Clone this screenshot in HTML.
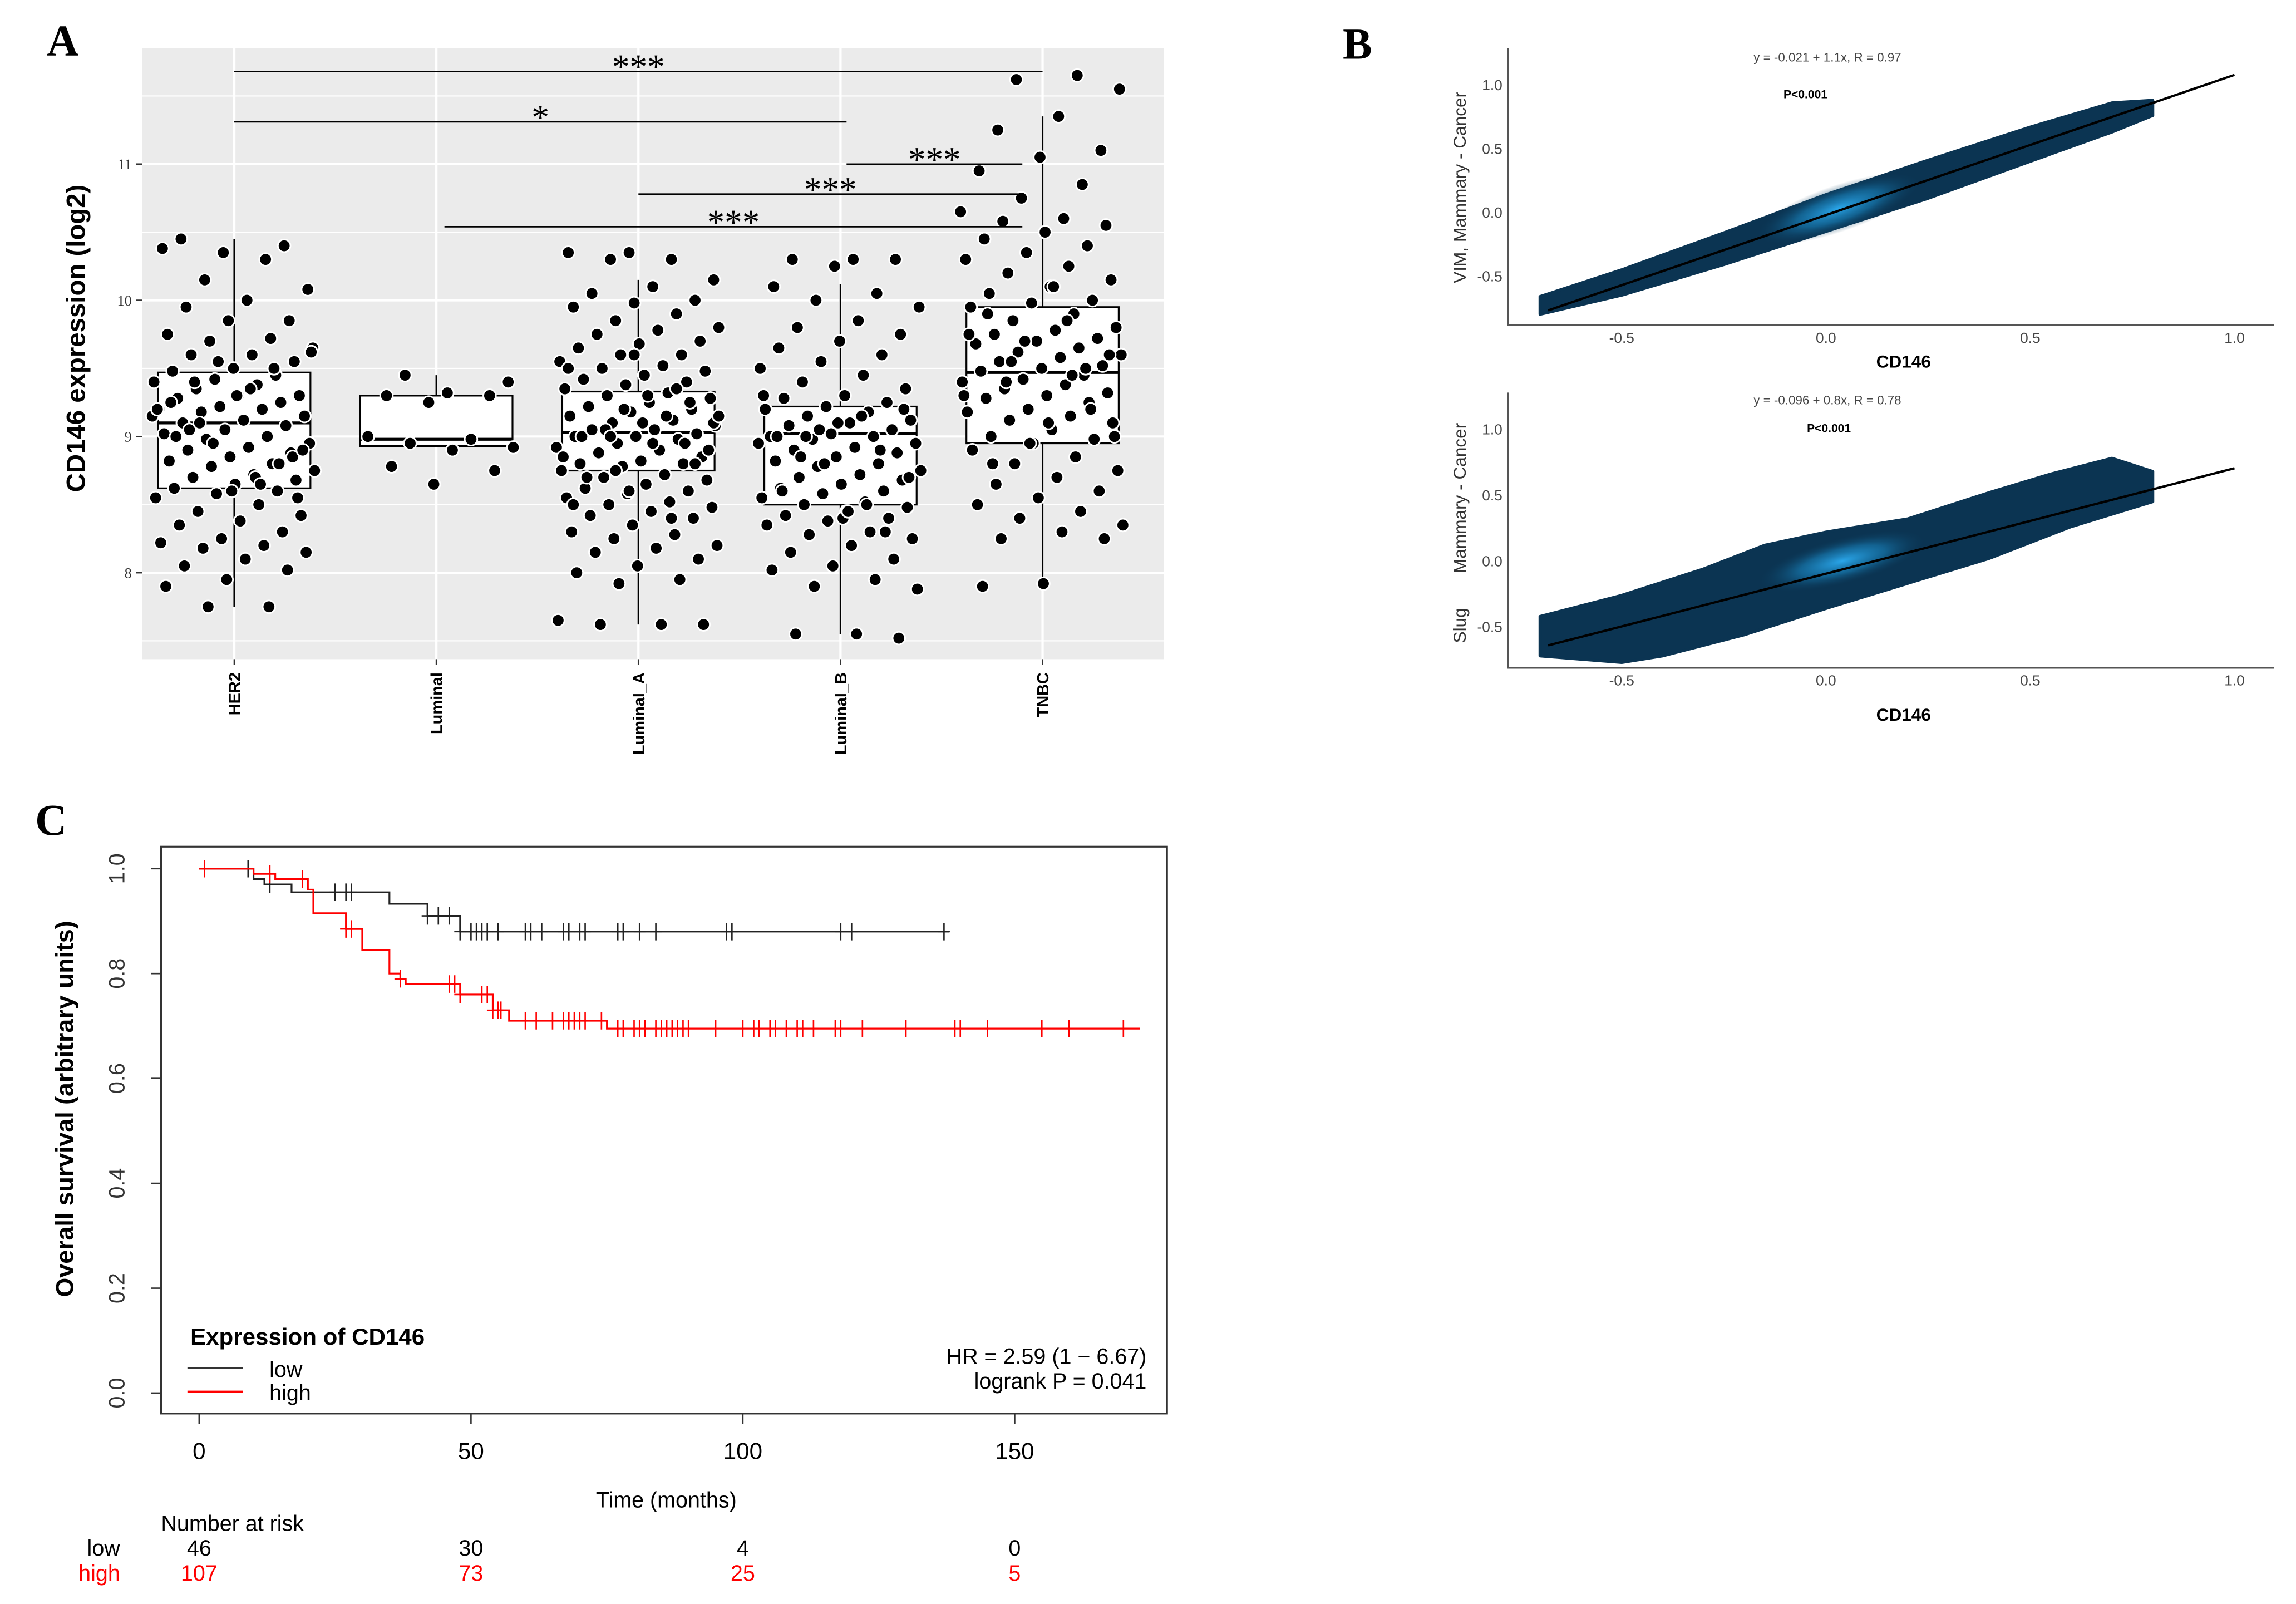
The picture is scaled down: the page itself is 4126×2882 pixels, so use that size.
<!DOCTYPE html>
<html><head><meta charset="utf-8">
<style>
html,body{margin:0;padding:0;background:#fff;}
svg{display:block;}
</style></head>
<body>
<svg id="fig" xmlns="http://www.w3.org/2000/svg" width="4126" height="2882" viewBox="0 0 1568 1095" preserveAspectRatio="none" font-family="Liberation Sans, sans-serif">
<defs>
<radialGradient id="glowB1" cx="0.5" cy="0.5" r="0.5"><stop offset="0" stop-color="#2aa6ea"/><stop offset="0.5" stop-color="#1677ad" stop-opacity="0.7"/><stop offset="1" stop-color="#0a3350" stop-opacity="0"/></radialGradient>
<radialGradient id="glowB2" cx="0.5" cy="0.5" r="0.5"><stop offset="0" stop-color="#2aa6ea"/><stop offset="0.5" stop-color="#1677ad" stop-opacity="0.7"/><stop offset="1" stop-color="#0a3350" stop-opacity="0"/></radialGradient>
</defs>
</svg>
<script>
// ---------- Panel A data ----------
const catsA = ['HER2','Luminal','Luminal_A','Luminal_B','TNBC'];
const q1A  = [8.62, 8.93, 8.75, 8.50, 8.95];
const medA = [9.10, 8.98, 9.03, 9.02, 9.47];
const q3A  = [9.47, 9.30, 9.33, 9.22, 9.95];
const loA  = [7.75, 8.92, 7.62, 7.55, 7.90];
const hiA  = [10.45, 9.45, 10.15, 10.12, 11.35];
const ticksA = [8, 9, 10, 11];
const ptsHER2 = [10.45,10.4,10.35,10.38,10.3,10.15,10.08,10.0,9.95,9.85,9.85,9.75,9.72,9.7,9.65,9.6,9.6,9.55,9.5,9.48,9.45,9.42,9.4,9.38,9.35,9.3,9.3,9.28,9.25,9.22,9.2,9.2,9.18,9.15,9.12,9.1,9.08,9.05,9.02,9.0,8.98,8.95,8.92,8.9,8.88,8.85,8.82,8.8,8.78,8.75,8.72,8.7,8.68,8.65,8.62,8.6,8.58,8.55,8.5,8.45,8.42,8.38,8.35,8.3,8.25,8.22,8.2,8.18,8.15,8.1,8.05,8.02,7.95,7.9,7.75,7.75,9.62,9.35,9.05,8.85,8.6,9.25,9.5,8.95,9.15,8.7,9.4,8.55,9.3,9.0,8.8,9.55,9.2,8.65,9.1,8.9];
const ptsLum = [9.45,9.4,9.32,9.3,9.3,9.25,9.0,8.98,8.95,8.92,8.9,8.78,8.75,8.65];
const ptsLumA = [10.35,10.35,10.3,10.3,10.15,10.1,10.05,10.0,9.98,9.95,9.9,9.85,9.8,9.78,9.75,9.7,9.68,9.65,9.6,9.6,9.55,9.52,9.5,9.48,9.45,9.42,9.4,9.38,9.35,9.32,9.3,9.28,9.25,9.22,9.2,9.18,9.15,9.12,9.1,9.08,9.05,9.05,9.02,9.0,9.0,8.98,8.95,8.92,8.9,8.88,8.85,8.82,8.8,8.8,8.78,8.75,8.72,8.7,8.68,8.65,8.62,8.6,8.58,8.55,8.52,8.5,8.48,8.45,8.42,8.4,8.35,8.3,8.28,8.25,8.2,8.18,8.15,8.1,8.05,8.0,7.95,7.92,7.65,7.62,7.62,7.62,9.1,9.0,8.95,9.2,8.85,9.15,9.05,8.9,9.3,8.7,9.25,8.6,9.5,8.4,9.0,9.1,8.95,9.05,8.8,9.6,8.5,9.35,8.75,9.15];
const ptsLumB = [10.3,10.3,10.3,10.25,10.1,10.05,10.0,9.95,9.85,9.8,9.75,9.7,9.65,9.6,9.55,9.5,9.45,9.4,9.35,9.3,9.28,9.25,9.22,9.2,9.18,9.15,9.12,9.1,9.08,9.05,9.02,9.0,9.0,8.98,8.95,8.92,8.9,8.88,8.85,8.82,8.8,8.78,8.75,8.72,8.7,8.68,8.65,8.62,8.6,8.58,8.55,8.52,8.5,8.48,8.45,8.42,8.4,8.38,8.35,8.3,8.28,8.25,8.2,8.15,8.1,8.05,8.02,7.95,7.9,7.88,7.55,7.55,7.52,9.1,9.0,8.9,9.05,8.95,9.15,8.85,9.2,8.4,8.6,8.3,8.8,9.3,8.5,9.0,8.7,8.45];
const ptsTNBC = [11.65,11.62,11.55,11.35,11.25,11.1,11.05,10.95,10.85,10.75,10.65,10.6,10.58,10.55,10.5,10.45,10.4,10.35,10.3,10.25,10.2,10.15,10.1,10.05,10.0,9.98,9.95,9.9,9.85,9.8,9.78,9.75,9.72,9.7,9.68,9.65,9.62,9.6,9.58,9.55,9.52,9.5,9.48,9.45,9.42,9.4,9.38,9.35,9.32,9.3,9.28,9.25,9.2,9.18,9.15,9.12,9.1,9.05,9.0,8.98,8.95,8.9,8.85,8.8,8.75,8.7,8.65,8.6,8.55,8.5,8.45,8.4,8.35,8.3,8.25,8.25,7.92,7.9,9.5,9.7,9.3,9.85,9.4,9.6,9.1,9.9,9.2,8.95,9.75,9.45,9.55,9.0,10.1,8.8];
const groupsA = [ptsHER2, ptsLum, ptsLumA, ptsLumB, ptsTNBC];
const sigFrom = [0, 0, 3.03, 2.0, 1.04];
const sigTo   = [4.0, 3.03, 3.9, 3.9, 3.9];
const sigVal  = [11.68, 11.31, 11.0, 10.78, 10.54];
const sigLab  = ['***', '*', '***', '***', '***'];

// ---------- Panel B data ----------
const ticksBx = [-0.5, 0.0, 0.5, 1.0];
const ticksBy = [-0.5, 0.0, 0.5, 1.0];
const fitB1 = [-0.021, 1.1];
const fitB2 = [-0.096, 0.8];
const bandB1Upper = [[-0.7,-0.66],[-0.5,-0.45],[-0.25,-0.16],[0,0.14],[0.25,0.41],[0.5,0.67],[0.7,0.86],[0.8,0.88]];
const bandB1Lower = [[0.8,0.76],[0.7,0.63],[0.5,0.4],[0.25,0.11],[0,-0.15],[-0.25,-0.41],[-0.5,-0.65],[-0.7,-0.8]];
const bandB2Upper = [[-0.7,-0.42],[-0.5,-0.26],[-0.3,-0.06],[-0.15,0.12],[0.0,0.22],[0.2,0.32],[0.4,0.52],[0.55,0.66],[0.7,0.78],[0.8,0.68]];
const bandB2Lower = [[0.8,0.45],[0.6,0.26],[0.4,0.02],[0.2,-0.17],[0.0,-0.36],[-0.2,-0.56],[-0.4,-0.72],[-0.5,-0.77],[-0.7,-0.72]];

// ---------- Panel C data ----------
const lowT  = [0,10,12,17,35,42,48,138];
const lowS  = [1,0.98,0.97,0.955,0.933,0.91,0.88,0.88];
const highT = [0,10,14,20,21,27,30,35,37,38,48,54,57,75,173];
const highS = [1,0.99,0.98,0.96,0.915,0.885,0.845,0.80,0.79,0.78,0.76,0.73,0.71,0.695,0.695];
const lowCens = [9,13,25,27,28,42,44,46,48,50,51,52,53,55,60,61,63,67,68,70,71,77,78,81,84,97,98,118,120,137];
const highCens = [1,13,19,27,28,37,46,47,48,52,53,54,55,55.5,60,62,65,67,68,69,70,71,74,77,78,80,81,82,84,85,86,87,88,89,90,95,100,102,103,105,106,108,110,111,113,117,118,122,130,139,140,145,155,160,170];
const ticksCx = [0,50,100,150];
const ticksCy = [0,0.2,0.4,0.6,0.8,1.0];
const riskT = [0,50,100,150];
const riskLow = [46,30,4,0];
const riskHigh = [107,73,25,5];

const NS='http://www.w3.org/2000/svg';
const svg=document.getElementById('fig');
function mk(tag,attrs,parent){const e=document.createElementNS(NS,tag);for(const k in attrs)e.setAttribute(k,attrs[k]);(parent||svg).appendChild(e);return e;}
function txt(s,attrs,parent){const e=mk('text',attrs,parent);e.textContent=s;return e;}
const SERIF='Liberation Serif, serif';
let el;

// ================= PANEL A =================
const gA=mk('g',{});


el=txt('A',{x:32,y:38,'font-family':SERIF,'font-weight':'bold','font-size':30},gA);


const axL=97,axR=795,axT=33,axB=450;
const yA=v=>298-(v-9)*93;
const xA=i=>160+i*138;
el=mk('rect',{x:axL,y:axT,width:axR-axL,height:axB-axT,fill:'#ebebeb'},gA);


[7.5,8.5,9.5,10.5,11.5].forEach(v=>{el=mk('line',{x1:axL,x2:axR,y1:yA(v),y2:yA(v),stroke:'#fff','stroke-width':0.8},gA);

});
ticksA.forEach(v=>{el=mk('line',{x1:axL,x2:axR,y1:yA(v),y2:yA(v),stroke:'#fff','stroke-width':1.6},gA);


el=mk('line',{x1:axL-4,x2:axL,y1:yA(v),y2:yA(v),stroke:'#333','stroke-width':1},gA);


el=txt(String(v),{x:axL-7,y:yA(v)+3.5,'font-size':10,'text-anchor':'end','font-family':SERIF,fill:'#333'},gA);

});
catsA.forEach((c,i)=>{el=mk('line',{x1:xA(i),x2:xA(i),y1:axT,y2:axB,stroke:'#fff','stroke-width':1.6},gA);


el=mk('line',{x1:xA(i),x2:xA(i),y1:axB,y2:axB+4,stroke:'#333','stroke-width':1},gA);


el=txt(c,{x:0,y:0,'font-size':11,'font-weight':'bold','text-anchor':'end',transform:`translate(${xA(i)+4},${axB+9}) rotate(-90)`},gA);

});
el=txt('CD146 expression (log2)',{x:0,y:0,'font-size':18,'font-weight':'bold','text-anchor':'middle',transform:'translate(58,231) rotate(-90)'},gA);


catsA.forEach((c,i)=>{const x=xA(i),w=104;
el=mk('line',{x1:x,x2:x,y1:yA(hiA[i]),y2:yA(loA[i]),stroke:'#000','stroke-width':1.2},gA);


el=mk('rect',{x:x-w/2,y:yA(q3A[i]),width:w,height:yA(q1A[i])-yA(q3A[i]),fill:'#fff',stroke:'#000','stroke-width':1.2},gA);


el=mk('line',{x1:x-w/2,x2:x+w/2,y1:yA(medA[i]),y2:yA(medA[i]),stroke:'#000','stroke-width':2},gA);

});
groupsA.forEach((arr,g)=>{arr.forEach((v,i)=>{const off=((((i*61+17+g*13)%97)/97)-0.5)*112;
el=mk('circle',{cx:xA(g)+off,cy:yA(v),r:4.3,fill:'#000',stroke:'#fff','stroke-width':1.1},gA);

});});
sigFrom.forEach((f,i)=>{const x1=xA(f),x2=xA(sigTo[i]),y=yA(sigVal[i]);
el=mk('line',{x1:x1,x2:x2,y1:y,y2:y,stroke:'#000','stroke-width':1},gA);


el=txt(sigLab[i],{x:(x1+x2)/2,y:y+5,'font-size':24,'text-anchor':'middle','font-family':SERIF},gA);

});

// ================= PANEL B =================
const gB=mk('g',{});


el=txt('B',{x:917,y:40,'font-family':SERIF,'font-weight':'bold','font-size':30},gB);


const xB=v=>1247+v*279;
function scatterPanel(top,bottom,y0,yUnit,fit,up,lo,glow,gx,gy,eqText,pY,eqY,ylabel,idx){
  const yB=v=>y0-v*yUnit;
  const g=mk('g',{},gB);
  
  
  const pts=up.concat(lo).map(p=>xB(p[0])+','+yB(p[1])).join(' ');
  el=mk('polygon',{points:pts,fill:'#0b3452',stroke:'#0b3452','stroke-width':2,'stroke-linejoin':'round'},g);
  
  
  el=mk('ellipse',{cx:xB(gx),cy:yB(gy),rx:60,ry:16,fill:`url(#${glow})`,transform:`rotate(${-Math.atan(fit[1]*yUnit/279)*180/Math.PI} ${xB(gx)} ${yB(gy)})`},g);
  
  
  el=mk('line',{x1:xB(-0.68),y1:yB(fit[0]+fit[1]*-0.68),x2:xB(1.0),y2:yB(fit[0]+fit[1]*1.0),stroke:'#000','stroke-width':1.6},g);
  
  
  el=mk('path',{d:`M1030,${top} V${bottom} H1553`,fill:'none',stroke:'#555','stroke-width':1},g);
  
  
  ticksBx.forEach(v=>{el=txt(v.toFixed(1),{x:xB(v),y:bottom+12,'font-size':10,'text-anchor':'middle',fill:'#444'},g);
  
  });
  ticksBy.forEach(v=>{el=txt(v.toFixed(1),{x:1026,y:yB(v)+3.5,'font-size':10,'text-anchor':'end',fill:'#444'},g);
  
  });
  el=txt('CD146',{x:1300,y:bottom+(idx==1?29:36),'font-size':12,'font-weight':'bold','text-anchor':'middle'},g);
  
  
  el=txt(eqText,{x:1248,y:eqY,'font-size':8.5,'text-anchor':'middle',fill:'#444'},g);
  
  
  el=txt('P<0.001',{x:pY[0],y:pY[1],'font-size':8,'font-weight':'bold','text-anchor':'middle'},g);
  
  
  ylabel.forEach(l=>{el=txt(l[0],{x:0,y:0,'font-size':12,'text-anchor':'middle',fill:'#333',transform:`translate(1001,${l[1]}) rotate(-90)`},g);
  
  });
}
scatterPanel(33,222,145,87,fitB1,bandB1Upper,bandB1Lower,'glowB1',0.03,0.03,'y = -0.021 + 1.1x,  R = 0.97',[1233,67],42,[['VIM, Mammary - Cancer',128]],1);
scatterPanel(268,456,383,90,fitB2,bandB2Upper,bandB2Lower,'glowB2',0.04,0.0,'y = -0.096 + 0.8x,  R = 0.78',[1249,295],276,[['Mammary - Cancer',340],['Slug',427]],2);

// ================= PANEL C =================
const gC=mk('g',{});


el=txt('C',{x:24,y:570,'font-family':SERIF,'font-weight':'bold','font-size':30},gC);


const xC=t=>136+t*3.713;
const yC=s=>951-s*358;
el=mk('rect',{x:110,y:578,width:687,height:387,fill:'none',stroke:'#333','stroke-width':1.2},gC);


ticksCx.forEach(v=>{el=mk('line',{x1:xC(v),x2:xC(v),y1:965,y2:972,stroke:'#333'},gC);


el=txt(String(v),{x:xC(v),y:996,'font-size':16,'text-anchor':'middle'},gC);

});
ticksCy.forEach(v=>{el=mk('line',{x1:103,x2:110,y1:yC(v),y2:yC(v),stroke:'#333'},gC);


el=txt(v.toFixed(1),{x:0,y:0,'font-size':15,'text-anchor':'middle',fill:'#333',transform:`translate(85,${yC(v)}) rotate(-90)`},gC);

});
el=txt('Overall survival (arbitrary units)',{x:0,y:0,'font-size':17,'font-weight':'bold','text-anchor':'middle',transform:'translate(50,757) rotate(-90)'},gC);


el=txt('Time (months)',{x:455,y:1029,'font-size':15,'text-anchor':'middle'},gC);


function km(T,S,cens,color,name){
  let d=`M${xC(T[0])},${yC(S[0])}`;
  for(let i=1;i<T.length;i++){d+=` H${xC(T[i])} V${yC(S[i])}`;}
  el=mk('path',{d:d,fill:'none',stroke:color,'stroke-width':1.2},gC);
  
  
  cens.forEach(t=>{let s=S[0];for(let i=0;i<T.length;i++){if(T[i]<=t)s=S[i];}
    el=mk('path',{d:`M${xC(t)},${yC(s)-6} V${yC(s)+6} M${xC(t)-4},${yC(s)} H${xC(t)+4}`,stroke:color,'stroke-width':1},gC);
    
    });
}
km(lowT,lowS,lowCens,'#222','low');
km(highT,highS,highCens,'#f00','high');
el=txt('Expression of CD146',{x:130,y:918,'font-size':16,'font-weight':'bold'},gC);


el=mk('line',{x1:128,x2:166,y1:934,y2:934,stroke:'#333','stroke-width':1.3},gC);


el=txt('low',{x:184,y:940,'font-size':15},gC);


el=mk('line',{x1:128,x2:166,y1:950,y2:950,stroke:'#f00','stroke-width':1.3},gC);


el=txt('high',{x:184,y:956,'font-size':15},gC);


el=txt('HR = 2.59 (1 − 6.67)',{x:783,y:931,'font-size':15,'text-anchor':'end'},gC);


el=txt('logrank P = 0.041',{x:783,y:948,'font-size':15,'text-anchor':'end'},gC);


el=txt('Number at risk',{x:110,y:1045,'font-size':15},gC);


el=txt('low',{x:82,y:1062,'font-size':15,'text-anchor':'end'},gC);


el=txt('high',{x:82,y:1079,'font-size':15,'text-anchor':'end',fill:'#f00'},gC);


riskT.forEach((t,i)=>{el=txt(String(riskLow[i]),{x:xC(t),y:1062,'font-size':15,'text-anchor':'middle'},gC);


el=txt(String(riskHigh[i]),{x:xC(t),y:1079,'font-size':15,'text-anchor':'middle',fill:'#f00'},gC);

});
</script>
</body></html>
